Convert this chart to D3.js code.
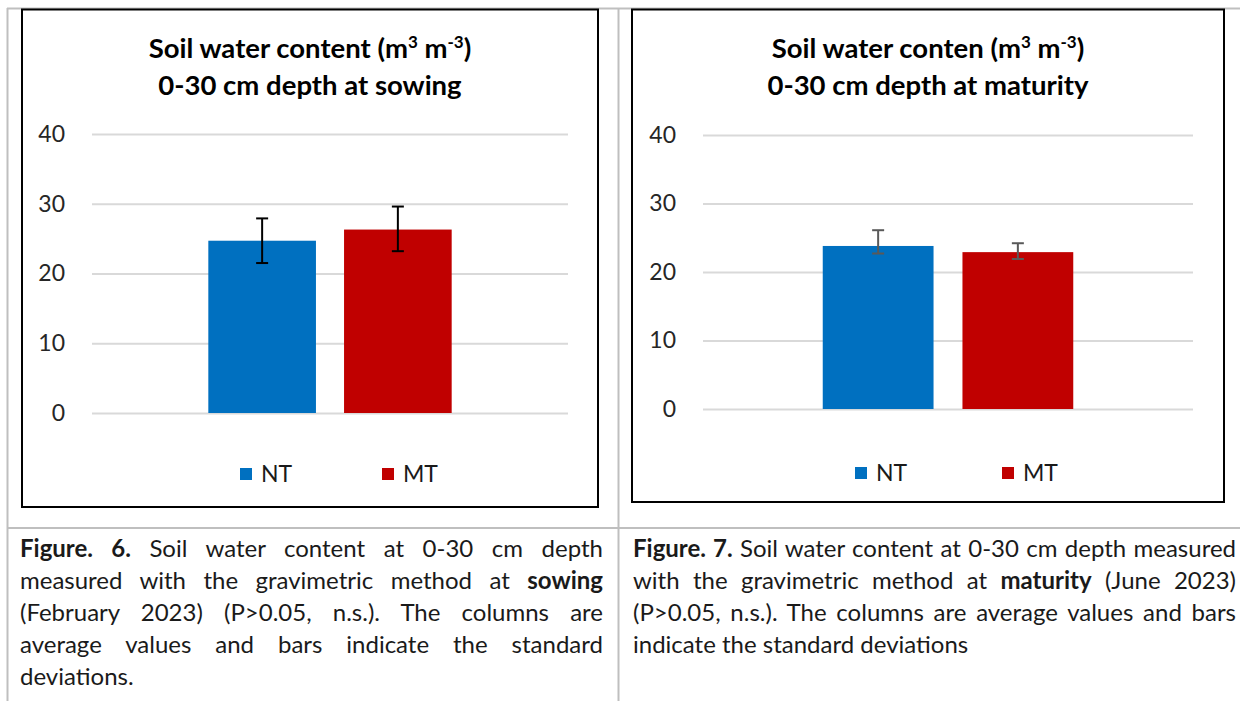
<!DOCTYPE html>
<html><head><meta charset="utf-8">
<script src="https://cdn.jsdelivr.net/npm/d3@7"></script>
<style>
body{margin:0;background:#fff;}
#root{position:relative;width:1240px;height:701px;overflow:hidden;font-family:Lato,"Open Sans",sans-serif;}
svg{position:absolute;left:0;top:0;}
.capline{position:absolute;color:#1a1a1a;line-height:32px;height:32px;white-space:normal;overflow:visible;}
.just{text-align:justify;text-align-last:justify;}
</style></head><body><div id="root"></div>
<script>
// ---------- data ----------
const categories = ["NT", "MT"];
const sowingMean = [24.7, 26.3];
const sowingErrPlus = [3.2, 3.3];
const sowingErrMinus = [3.2, 3.1];
const maturityMean = [23.8, 22.9];
const maturityErrPlus = [2.3, 1.3];
const maturityErrMinus = [1.1, 1.0];
const yTicks = [0, 10, 20, 30, 40];
const seriesColors = ["#0070C0", "#C00000"];
const titleSowing = ["Soil water content", "0-30 cm depth at sowing"];
const titleMaturity = ["Soil water conten", "0-30 cm depth at maturity"];
const captionSowing = [
  [["Figure. 6.", true], [" Soil water content at 0-30 cm depth", false]],
  [["measured with the gravimetric method at ", false], ["sowing", true]],
  [["(February 2023) (P>0.05, n.s.). The columns are", false]],
  [["average values and bars indicate the standard", false]],
  [["deviations.", false]]
];
const captionMaturity = [
  [["Figure. 7.", true], [" Soil water content at 0-30 cm depth measured", false]],
  [["with the gravimetric method at ", false], ["maturity", true], [" (June 2023)", false]],
  [["(P>0.05, n.s.). The columns are average values and bars", false]],
  [["indicate the standard deviations", false]]
];

// ---------- layout ----------
const root = d3.select("#root");
const svg = root.append("svg").attr("width", 1240).attr("height", 701);

const grid = svg.append("g").attr("stroke", "#bfbfbf").attr("stroke-width", 2);
grid.append("line").attr("x1", 7).attr("x2", 1240).attr("y1", 8.5).attr("y2", 8.5);
grid.append("line").attr("x1", 7).attr("x2", 1240).attr("y1", 528).attr("y2", 528);
grid.append("line").attr("x1", 7.5).attr("x2", 7.5).attr("y1", 8).attr("y2", 701);
grid.append("line").attr("x1", 618.5).attr("x2", 618.5).attr("y1", 8).attr("y2", 701);

function drawChart(cfg) {
  const g = svg.append("g");
  g.append("rect").attr("x", cfg.fx).attr("y", cfg.fy).attr("width", cfg.fw).attr("height", cfg.fh)
    .attr("fill", "#fff").attr("stroke", "#000").attr("stroke-width", 2);
  const cx = cfg.fx + cfg.fw / 2;
  const tfs = 27.5, sfs = 17;
  const t1 = g.append("text").attr("x", cx).attr("y", cfg.titleY).attr("text-anchor", "middle")
    .attr("font-weight", "bold").attr("font-size", tfs).attr("fill", "#000");
  t1.append("tspan").text(cfg.title[0] + " (m");
  t1.append("tspan").attr("font-size", sfs).attr("dy", -10).text("3");
  t1.append("tspan").attr("dy", 10).text(" m");
  t1.append("tspan").attr("font-size", sfs).attr("dy", -10).text("-3");
  t1.append("tspan").attr("dy", 10).text(")");
  g.append("text").attr("x", cx).attr("y", cfg.titleY + 37).attr("text-anchor", "middle")
    .attr("font-weight", "bold").attr("font-size", tfs).attr("fill", "#000").text(cfg.title[1]);

  const y = d3.scaleLinear().domain([0, 40]).range([cfg.y0, cfg.y40]);
  const x = d3.scaleBand().domain(categories).range([cfg.px0, cfg.px1])
    .paddingInner(0.207).paddingOuter(0.857);

  const ax = g.append("g").attr("transform", `translate(${cfg.px0},0)`)
    .call(d3.axisLeft(y).tickValues(yTicks).tickSize(-(cfg.px1 - cfg.px0)).tickPadding(27).tickFormat(d3.format("d")));
  ax.select(".domain").remove();
  ax.selectAll(".tick line").attr("stroke", "#d9d9d9").attr("stroke-width", 2);
  ax.selectAll(".tick text").attr("font-size", 23).attr("fill", "#262626")
    .attr("font-family", "Lato, 'Open Sans', sans-serif");

  g.selectAll(".bar").data(categories).join("rect").attr("class", "bar")
    .attr("x", d => x(d)).attr("width", x.bandwidth())
    .attr("y", (d, i) => y(cfg.mean[i])).attr("height", (d, i) => y(0) - y(cfg.mean[i]))
    .attr("fill", (d, i) => seriesColors[i]);

  const eb = g.append("g").attr("stroke", cfg.errColor).attr("stroke-width", 2);
  categories.forEach((c, i) => {
    const xc = x(c) + x.bandwidth() / 2;
    const yt = y(cfg.mean[i] + cfg.errPlus[i]), yb = y(cfg.mean[i] - cfg.errMinus[i]);
    eb.append("line").attr("x1", xc).attr("x2", xc).attr("y1", yt).attr("y2", yb);
    eb.append("line").attr("x1", xc - 6).attr("x2", xc + 6).attr("y1", yt).attr("y2", yt);
    eb.append("line").attr("x1", xc - 6).attr("x2", xc + 6).attr("y1", yb).attr("y2", yb);
  });

  categories.forEach((c, i) => {
    const lx = cx + cfg.legOff[i];
    g.append("rect").attr("x", lx).attr("y", cfg.legY - 6).attr("width", 12).attr("height", 12)
      .attr("fill", seriesColors[i]);
    g.append("text").attr("x", lx + 21).attr("y", cfg.legY + 8).attr("font-size", 23)
      .attr("fill", "#1a1a1a").text(c);
  });
}

drawChart({fx: 22, fy: 9.5, fw: 576, fh: 497.5, titleY: 58, px0: 92, px1: 568, y0: 413, y40: 134,
  mean: sowingMean, errPlus: sowingErrPlus, errMinus: sowingErrMinus, errColor: "#000",
  title: titleSowing, legY: 474, legOff: [-70, 72]});
drawChart({fx: 632, fy: 9.5, fw: 592, fh: 492.5, titleY: 58, px0: 703, px1: 1193, y0: 409, y40: 135,
  mean: maturityMean, errPlus: maturityErrPlus, errMinus: maturityErrMinus, errColor: "#595959",
  title: titleMaturity, legY: 473, legOff: [-73, 74]});

// captions: choose the largest font size (up to 24px) at which every justified line fits
function naturalWidth(segs, fs) {
  const m = root.append("span").style("position", "absolute").style("visibility", "hidden")
    .style("white-space", "nowrap").style("font-size", fs + "px");
  segs.forEach(([t, b]) => m.append("span").style("font-weight", b ? "bold" : "normal").text(t));
  const w = m.node().getBoundingClientRect().width;
  m.remove();
  return w;
}
function drawCaption(lines, left, width, top, maxFs) {
  let fs = maxFs;
  while (fs > 12 && lines.some(segs => naturalWidth(segs, fs) > width - 1)) fs -= 0.5;
  lines.forEach((segs, i) => {
    const d = root.append("div").attr("class", "capline" + (i < lines.length - 1 ? " just" : ""))
      .style("left", left + "px").style("top", (top + i * 32) + "px")
      .style("width", width + "px").style("font-size", fs + "px");
    segs.forEach(([t, b]) => d.append("span").style("font-weight", b ? "bold" : "normal").text(t));
  });
}
drawCaption(captionSowing, 20, 583, 532, 24);
drawCaption(captionMaturity, 633, 603, 532, 24);
</script></body></html>
